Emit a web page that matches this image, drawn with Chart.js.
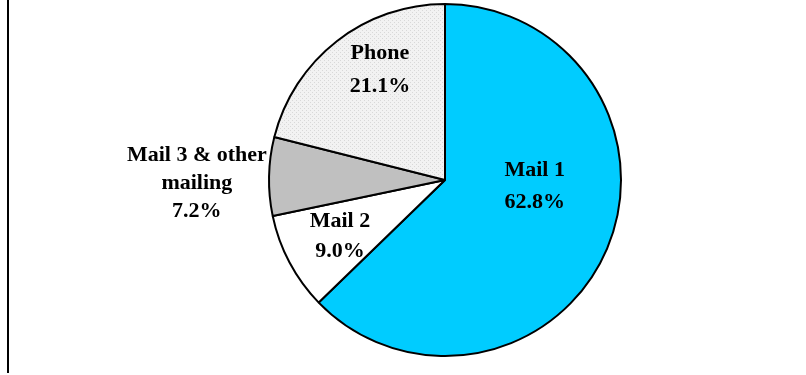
<!DOCTYPE html>
<html>
<head>
<meta charset="utf-8">
<script src="https://cdn.jsdelivr.net/npm/chart.js@4/dist/chart.umd.min.js"></script>
<style>
  html, body { margin: 0; padding: 0; background: #fff; }
  #wrap { position: relative; width: 806px; height: 375px; }
  #wrap:before { content: ""; position: absolute; left: 7px; top: 0; width: 2px; height: 373px; background: #000; }
</style>
</head>
<body>
<div id="wrap"><canvas id="grafico" width="806" height="375"></canvas></div>
<script>
// Quote di risposta per canale
const categorie = ["Mail 1", "Mail 2", "Mail 3 & other mailing", "Phone"];
const percentuali = [62.8, 9.0, 7.2, 21.1];
const etichette = [["Mail 1", "62.8%"], ["Mail 2", "9.0%"], ["Mail 3 & other", "mailing", "7.2%"], ["Phone", "21.1%"]];

// pattern puntinato per la fetta Phone
function motivo() {
    const c = document.createElement("canvas");
    c.width = 4; c.height = 4;
    const g = c.getContext("2d");
    g.fillStyle = "#f2f2f2";
    g.fillRect(0, 0, 4, 4);
    g.fillStyle = "#d8d8d8";
    g.fillRect(0, 0, 1, 1);
    g.fillRect(2, 2, 1, 1);
    return g.createPattern(c, "repeat");
}

// posizione etichette: angolo (gradi, da nord in senso orario), frazione del raggio, interlinea
const posEtichette = [
    { ang: 92, r: 0.51, h: 32 },
    { ang: 243, r: 0.67, h: 30 },
    { ang: 270, r: 1.41, h: 28 },
    { ang: 330, r: 0.74, h: 33 }
];

const etichettePlugin = {
    id: "etichette",
    afterDatasetsDraw(chart) {
        const ctx = chart.ctx;
        const archi = chart.getDatasetMeta(0).data;
        ctx.save();
        ctx.font = "bold 22px 'Liberation Serif', 'Times New Roman', serif";
        ctx.fillStyle = "#000";
        ctx.textAlign = "center";
        ctx.textBaseline = "middle";
        archi.forEach((a, i) => {
            const p = posEtichette[i];
            const rad = (p.ang - 90) * Math.PI / 180;
            const cx = a.x + Math.cos(rad) * a.outerRadius * p.r;
            const cy = a.y + Math.sin(rad) * a.outerRadius * p.r + 3;
            const righe = etichette[i];
            righe.forEach((t, j) => {
                ctx.fillText(t, cx, cy + (j - (righe.length - 1) / 2) * p.h);
            });
        });
        ctx.restore();
    }
};

const ctx = document.getElementById("grafico").getContext("2d");
new Chart(ctx, {
    type: "pie",
    data: {
        labels: categorie,
        datasets: [{
            data: percentuali,
            backgroundColor: ["#00ccff", "#ffffff", "#c0c0c0", motivo()],
            borderColor: "#000",
            borderWidth: 2
        }]
    },
    options: {
        responsive: false,
        animation: false,
        layout: { padding: { top: 3, bottom: 18, left: 84, right: 0 } },
        plugins: {
            legend: { display: false },
            tooltip: { enabled: false }
        }
    },
    plugins: [etichettePlugin]
});
</script>
</body>
</html>
